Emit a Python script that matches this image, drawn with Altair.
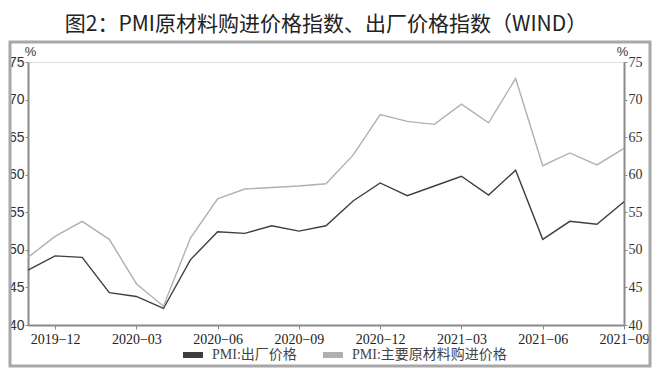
import altair as alt
import pandas as pd

months = ["2019-11", "2019-12", "2020-01", "2020-02", "2020-03", "2020-04", "2020-05",
          "2020-06", "2020-07", "2020-08", "2020-09", "2020-10", "2020-11", "2020-12",
          "2021-01", "2021-02", "2021-03", "2021-04", "2021-05", "2021-06", "2021-07",
          "2021-08", "2021-09"]
output_price = [47.3, 49.2, 49.0, 44.3, 43.8, 42.2, 48.7, 52.4, 52.2, 53.2, 52.5, 53.2,
                56.5, 58.9, 57.2, 58.5, 59.8, 57.3, 60.6, 51.4, 53.8, 53.4, 56.4]
purchase_price = [49.0, 51.8, 53.8, 51.4, 45.5, 42.5, 51.6, 56.8, 58.1, 58.3, 58.5, 58.8,
                  62.6, 68.0, 67.1, 66.7, 69.4, 66.9, 72.8, 61.2, 62.9, 61.3, 63.5]
series_names = ["PMI:出厂价格", "PMI:主要原材料购进价格"]
tick_months = ["2019-12", "2020-03", "2020-06", "2020-09", "2020-12", "2021-03",
               "2021-06", "2021-09"]
y_ticks = [40, 45, 50, 55, 60, 65, 70, 75]

rows = []
for m, a, b in zip(months, output_price, purchase_price):
    rows.append({"month": m, "series": series_names[0], "value": a})
    rows.append({"month": m, "series": series_names[1], "value": b})
df = pd.DataFrame(rows)

W, H = 596, 263
xenc = alt.X("month:O", sort=months,
             scale=alt.Scale(type="point", padding=0, domain=months),
             axis=alt.Axis(values=tick_months, labelAngle=0, title=None,
                           labelExpr="replace(datum.value, '-', '−')",
                           labelFont="Liberation Serif", labelFontSize=14,
                           labelColor="#222", labelPadding=3, tickSize=4,
                           domainColor="#8a8a8a", domainWidth=2, tickColor="#8a8a8a"))
yscale = alt.Scale(domain=[40, 75], nice=False, zero=False)

lines = alt.Chart(df).mark_line(strokeWidth=1.4).encode(
    x=xenc,
    y=alt.Y("value:Q", scale=yscale,
            axis=alt.Axis(values=y_ticks, orient="left", title="%", titleAngle=0,
                          titleX=2, titleY=-4, titleAlign="center", titleBaseline="bottom",
                          titleFont="Liberation Sans", titleFontSize=13, titleFontWeight="normal",
                          titleColor="#333",
                          labelFont="Liberation Sans", labelFontSize=14, labelColor="#333",
                          labelPadding=1, tickSize=3, domainColor="#8a8a8a", domainWidth=2,
                          tickColor="#8a8a8a", grid=False)),
    color=alt.Color("series:N",
                    scale=alt.Scale(domain=series_names, range=["#3e3e3e", "#b0b0b0"]),
                    legend=alt.Legend(title=None, orient="none", direction="horizontal",
                                      legendX=152, legendY=280, symbolType="stroke",
                                      symbolSize=400, symbolStrokeWidth=6,
                                      labelFont="Liberation Serif, Noto Sans CJK SC",
                                      labelFontSize=14, labelColor="#444",
                                      columnPadding=14, symbolOffset=0, labelOffset=6)),
)

right = alt.Chart(df).mark_line(opacity=0).encode(
    x=xenc,
    y=alt.Y("value:Q", scale=yscale,
            axis=alt.Axis(values=y_ticks, orient="right", title="%", titleAngle=0,
                          titleX=-2, titleY=-4, titleAlign="center", titleBaseline="bottom",
                          titleFont="Liberation Sans", titleFontSize=13, titleFontWeight="normal",
                          titleColor="#333",
                          labelFont="Liberation Serif", labelFontSize=14, labelColor="#333",
                          labelPadding=1, tickSize=3, domainColor="#8a8a8a", domainWidth=2,
                          tickColor="#8a8a8a", grid=False)),
    detail="series:N",
)

frame = alt.Chart(alt.Data(values=[{"f": 1}])).mark_rect(
    fill=None, stroke="#a8a8a8", strokeWidth=3
).encode(x=alt.value(-18), x2=alt.value(622), y=alt.value(-20), y2=alt.value(304))

chart = alt.layer(frame, lines, right).resolve_scale(y="independent").properties(
    width=W, height=H,
    autosize=alt.AutoSizeParams(type="none"),
    padding={"left": 20, "top": 54, "right": 28, "bottom": 43},
    title=alt.TitleParams("图2：PMI原材料购进价格指数、出厂价格指数（WIND）",
                          font="Noto Sans CJK SC", fontSize=21, fontWeight="normal",
                          color="#222", anchor="middle", offset=6),
).configure_view(stroke=None).configure(background="white")

chart.save("out.html", embed_options={"renderer": "svg", "actions": False})
